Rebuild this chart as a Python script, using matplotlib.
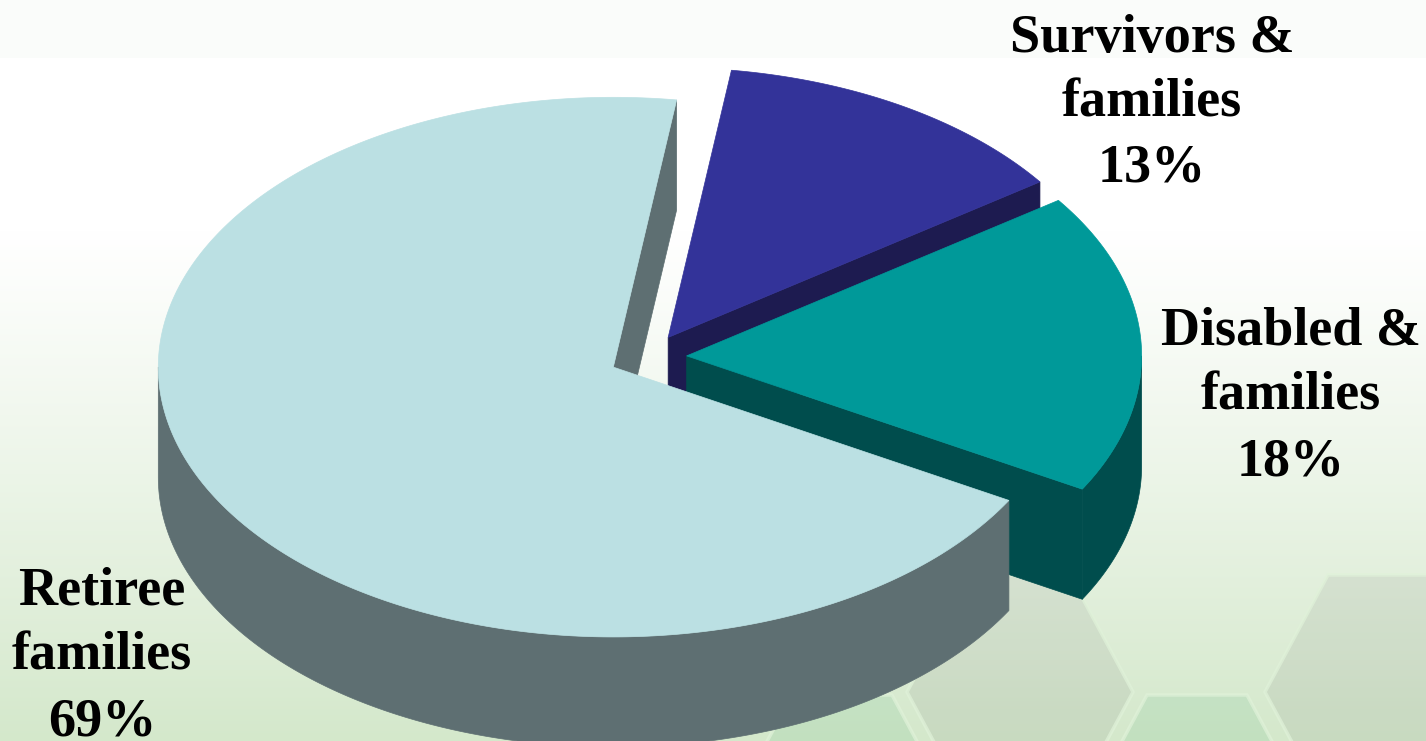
import numpy as np
import matplotlib
matplotlib.use("Agg")
import matplotlib.pyplot as plt
from matplotlib.patches import Polygon

# ---- data ----
categories = ["Survivors &\nfamilies", "Disabled &\nfamilies", "Retiree\nfamilies"]
shares = [13, 18, 69]
top_colors = ["#333399", "#009999", "#BBE0E3"]
side_colors = ["#1D1B50", "#004D4D", "#5E6F72"]

# ---- geometry / style ----
W, H = 1426, 741
START = 8.0          # degrees clockwise from 12 o'clock
TILT = 0.593         # vertical squash of the pie top
DEPTH = 0.242        # thickness of the pie
EXPLODE = 0.085
SCALE = 455.0        # pixels per pie radius
CX, CY = 648.0, 357.0  # pixel position of pie centre

fig = plt.figure(figsize=(W / 100, H / 100), dpi=100)

# ---- background: vertical gradient + faint hexagons ----
bg = fig.add_axes([0, 0, 1, 1])
bg.set_axis_off()
rows = np.arange(H)
t = np.clip((rows - 230) / (H - 230), 0, 1) ** 1.1
white = np.array([1.0, 1.0, 1.0])
green = np.array([212, 232, 203]) / 255
col = white[None, :] * (1 - t[:, None]) + green[None, :] * t[:, None]
col[rows < 58] = np.array([250, 252, 250]) / 255
img = np.repeat(col[:, None, :], 8, axis=1)
bg.imshow(img, extent=[0, W, H, 0], aspect="auto", zorder=0)
bg.set_xlim(0, W)
bg.set_ylim(H, 0)


def hexagon(cx, cy, hw=113, he=50, hh=117):
    return [(cx - he, cy - hh), (cx + he, cy - hh), (cx + hw, cy),
            (cx + he, cy + hh), (cx - he, cy + hh), (cx - hw, cy)]


for cx, cy, fc in [(1020, 692, (0.50, 0.52, 0.50, 0.14)),
                   (1378, 692, (0.50, 0.52, 0.50, 0.14)),
                   (1197, 812, (0.40, 0.72, 0.52, 0.16)),
                   (842, 812, (0.40, 0.72, 0.52, 0.16))]:
    bg.add_patch(Polygon(hexagon(cx, cy), closed=True, facecolor=fc,
                         edgecolor=(0.88, 0.95, 0.85, 0.7), lw=2.5, zorder=1))

# ---- pie axes (pie units, equal scale) ----
ax = fig.add_axes([0, 0, 1, 1])
ax.set_axis_off()
ax.patch.set_alpha(0)
ax.set_xlim(-CX / SCALE, (W - CX) / SCALE)
ax.set_ylim((CY - H) / SCALE, CY / SCALE)


def rim(theta, off, dz=0.0):
    th = np.radians(theta)
    return np.column_stack([off[0] + np.sin(th), off[1] + TILT * np.cos(th) - dz])


total = float(sum(shares))
bounds = []
a0 = START
for s in shares:
    a1 = a0 + 360.0 * s / total
    bounds.append((a0, a1))
    a0 = a1

offsets = []
for (s0, s1) in bounds:
    m = np.radians((s0 + s1) / 2)
    offsets.append(np.array([EXPLODE * np.sin(m), EXPLODE * TILT * np.cos(m)]))

# walls first (back to front: survivors, disabled, retiree)
for (s0, s1), off, sc in zip(bounds, offsets, side_colors):
    apex_t = off
    apex_b = off - np.array([0, DEPTH])
    for ang, vis in ((s1, np.sin(np.radians(s1)) > 0), (s0, np.sin(np.radians(s0)) < 0)):
        if vis:
            p = rim(ang, off)[0]
            poly = [apex_t, p, p - np.array([0, DEPTH]), apex_b]
            ax.add_patch(Polygon(poly, closed=True, facecolor=sc, edgecolor=sc,
                                 lw=0.5, zorder=2))
    # curved outer wall (front half 90..270)
    for k in (0, 1):
        lo = max(s0, 90 + 360 * k)
        hi = min(s1, 270 + 360 * k)
        if hi > lo:
            th = np.linspace(lo, hi, 200)
            top = rim(th, off)
            bot = rim(th[::-1], off, DEPTH)
            ax.add_patch(Polygon(np.vstack([top, bot]), closed=True,
                                 facecolor=sc, edgecolor=sc, lw=0.5, zorder=3))

# tops
for (s0, s1), off, tc in zip(bounds, offsets, top_colors):
    th = np.linspace(s0, s1, 400)
    pts = np.vstack([off[None, :], rim(th, off)])
    ax.add_patch(Polygon(pts, closed=True, facecolor=tc, edgecolor=tc, lw=0.5, zorder=4))

# ---- labels (position = centre x, last-line baseline y, in pixels) ----
label_pos = [(1152, 182), (1291, 475), (102, 735)]
for name, s, (px, py) in zip(categories, shares, label_pos):
    fig.text(px / W, 1 - py / H, f"{name}\n{s}%", ha="center", va="baseline",
             multialignment="center", fontsize=39, fontweight="bold",
             family=["Liberation Serif", "DejaVu Serif"],
             linespacing=1.40, color="black", zorder=10)

fig.savefig("out.png", dpi=100)
